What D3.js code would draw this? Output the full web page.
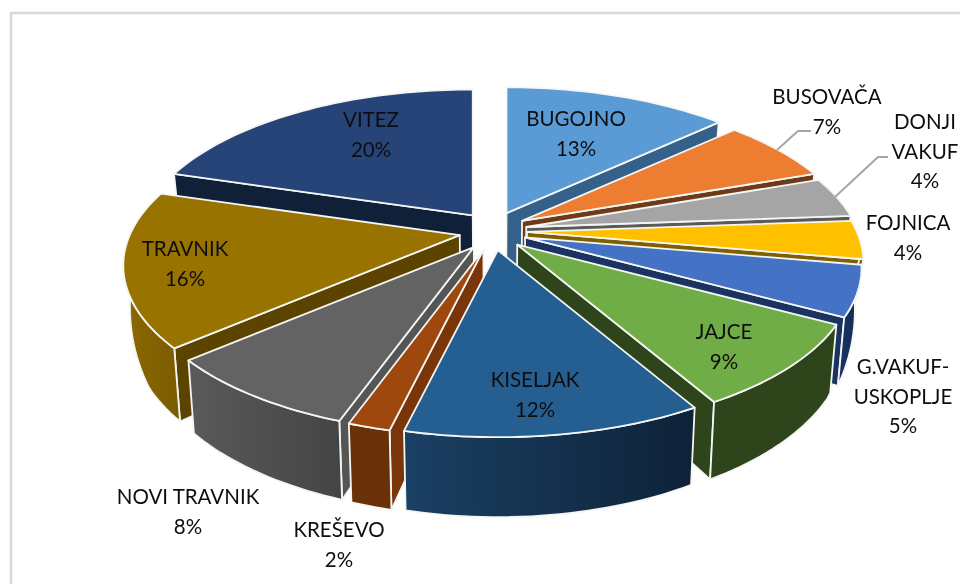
<!DOCTYPE html>
<html><head><meta charset="utf-8">
<script src="https://cdn.jsdelivr.net/npm/d3@7"></script>
<style>html,body{margin:0;padding:0;background:#fff}svg{display:block}</style>
</head><body><svg id="c" width="960" height="584"></svg>
<script>
const categories=["BUGOJNO","BUSOVAČA","DONJI VAKUF","FOJNICA","G.VAKUF-USKOPLJE","JAJCE","KISELJAK","KREŠEVO","NOVI TRAVNIK","TRAVNIK","VITEZ"];
const values=[13,6.6,4.2,4,5.2,8.75,11.95,1.7,8.2,16.1,20.3];
const labelLines=[["BUGOJNO"],["BUSOVAČA"],["DONJI","VAKUF"],["FOJNICA"],["G.VAKUF-","USKOPLJE"],["JAJCE"],["KISELJAK"],["KREŠEVO"],["NOVI TRAVNIK"],["TRAVNIK"],["VITEZ"]];
const topColors=["#5b9bd5","#ed7d31","#a5a5a5","#ffc000","#4472c4","#70ad47","#255e91","#9e480e","#636363","#997300","#264478"];
const wallLeft=["#34618a","#6e3a17","#5a5a5a","#7f6000","#1b3363","#2e451c","#1a4064","#6a3007","#5a5a5a","#8b6800","#0f2038"];
const wallRight=["#34618a","#6e3a17","#5a5a5a","#7f6000","#152a52","#2e451c","#0e2238","#6a3007","#444444","#7a5c00","#0f2038"];
const sideColors=["#34618a","#6e3a17","#5a5a5a","#7f6000","#1b3363","#2e451c","#1a4064","#7a3609","#555555","#5c4400","#0f2038"];
const labelAnchors=[[576,119],[827,97],[925,122],[908,223],[903,367],[724,332],[535,380],[339,530],[188,497],[185,249],[371,120]];
const leaders=[null,[[777,150],[798,131],[811,131]],[[835,197],[878,157],[888,157]]];

const svg=d3.select("#c");
const cx=493,cy=231,A=330,B=150.5,persp=0.195,explodeX=34,explodeY=19.4,shrink=0.982;
svg.append("path").attr("d","M11 584V13H960").attr("fill","none").attr("stroke","#d9d9d9").attr("stroke-width",2.5);

const pie=d3.pie().sort(null).value((d,i)=>values[i]);
const arcs=pie(categories);
const defs=svg.append("defs");
defs.append("filter").attr("id","soft").attr("x","-5%").attr("y","-5%").attr("width","110%").attr("height","110%")
  .append("feGaussianBlur").attr("stdDeviation",0.4);
const line=d3.line();
const sideDepth=d3.scaleLinear().domain([0,1]).range([60,80]);
const rimDepth=d3.scaleLinear().domain([0.1,0.2,0.5,1]).range([25,42,70,80]);
function rimPoint(p,th){
  const u=Math.sin(th),v=-Math.cos(th),d=1-persp*v;
  return [p[0]+A*u/d,p[1]+B*v/d];
}
function low(q,depth){
  return [cx+(q[0]-cx)*shrink,q[1]+depth];
}
const slices=arcs.map((a,i)=>{
  const mid=(a.startAngle+a.endAngle)/2;
  return {a,i,apex:[cx+explodeX*Math.sin(mid),cy-explodeY*Math.cos(mid)],depth:-Math.cos(mid)};
}).sort((p,q)=>p.depth-q.depth);

function face(pts,fill){
  svg.append("path").attr("d",line(pts)+"Z").attr("fill",fill)
    .attr("stroke","#f4f6f4").attr("stroke-width",1.8).attr("stroke-linejoin","round");
}
slices.forEach(s=>{
  const {a,i,apex}=s;
  const n=Math.max(8,Math.ceil((a.endAngle-a.startAngle)*40));
  const ths=d3.range(n+1).map(k=>a.startAngle+(a.endAngle-a.startAngle)*k/n);
  const rim=ths.map(t=>rimPoint(apex,t));
  [[a.startAngle,a.startAngle-Math.PI/2],[a.endAngle,a.endAngle+Math.PI/2]].forEach(([t,nrm])=>{
    if(-Math.cos(nrm)>0){
      const o=rimPoint(apex,t),v=-Math.cos(t);
      const dep=v>0.1?Math.min(sideDepth(v),rimDepth(v)):sideDepth(v);
      face([apex,o,low(o,dep),low(apex,sideDepth(0))],sideColors[i]);
    }
  });
  const vis=ths.filter(t=>-Math.cos(t)>0.1);
  if(vis.length>1){
    const id="w"+i,g=defs.append("linearGradient").attr("id",id);
    g.append("stop").attr("offset",0).attr("stop-color",wallLeft[i]);
    g.append("stop").attr("offset",1).attr("stop-color",wallRight[i]);
    const up=vis.map(t=>rimPoint(apex,t));
    const dn=vis.map(t=>low(rimPoint(apex,t),rimDepth(-Math.cos(t)))).reverse();
    face(up.concat(dn),`url(#${id})`);
  }
  face([apex].concat(rim),topColors[i]);
});

leaders.forEach(pts=>{ if(pts) svg.append("path").attr("d",line(pts)).attr("fill","none").attr("stroke","#a6a6a6").attr("stroke-width",2);});
categories.forEach((c,i)=>{
  const lines=labelLines[i].concat([Math.round(values[i])+"%"]);
  const t=svg.append("text").attr("text-anchor","middle").attr("font-family","Lato, 'Open Sans', sans-serif").attr("font-size",20.5).attr("fill","#111").attr("filter","url(#soft)");
  lines.forEach((l,k)=>t.append("tspan").attr("x",labelAnchors[i][0]).attr("y",labelAnchors[i][1]+7+k*29.5).text(l));
});
</script></body></html>
